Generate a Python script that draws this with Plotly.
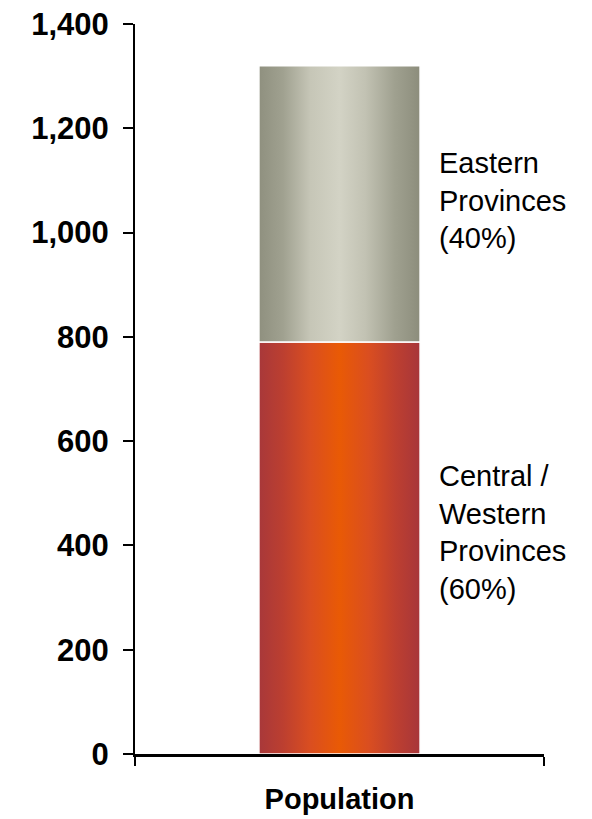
import plotly.graph_objects as go

# Population split (millions)
category = "Population"
segments = ["Central / Western Provinces", "Eastern Provinces"]
values = [790, 530]
labels = ["Central /<br>Western<br>Provinces<br>(60%)", "Eastern<br>Provinces<br>(40%)"]
label_y = [424, 1062]

y_ticks = [0, 200, 400, 600, 800, 1000, 1200, 1400]

# horizontal colour ramps for the two segments (cylinder-like shading)
ramps = [
    [[0, "#A8383A"], [0.15, "#BC3F30"], [0.32, "#DA4E20"], [0.5, "#E95A05"],
     [0.68, "#DA4E20"], [0.85, "#BD3F30"], [1, "#A7363A"]],
    [[0, "#8F907F"], [0.15, "#A0A190"], [0.32, "#C6C6B7"], [0.5, "#D3D3C5"],
     [0.66, "#C2C2B3"], [0.84, "#A0A190"], [1, "#8C8D7C"]],
]

half_w = 0.197
fig = go.Figure()

base = 0
for name, v, ramp in zip(segments, values, ramps):
    top = base + v
    fig.add_trace(go.Scatter(
        x=[-half_w, half_w, half_w, -half_w, -half_w],
        y=[base, base, top, top, base],
        mode="lines",
        fill="toself",
        fillgradient=dict(type="horizontal", colorscale=ramp),
        line=dict(color="white", width=1.5),
        name=name,
        hoverinfo="skip",
        showlegend=False,
    ))
    base = top

for txt, yy in zip(labels, label_y):
    fig.add_annotation(
        x=0.739, xref="paper", y=yy, yref="y",
        text=txt, showarrow=False, xanchor="left", yanchor="middle", align="left",
        font=dict(family="Liberation Sans, Arial, sans-serif", size=29, color="black"),
    )

fig.update_layout(
    width=592, height=819,
    margin=dict(l=135, r=48, t=24, b=65),
    paper_bgcolor="white", plot_bgcolor="white",
    showlegend=False,
    font=dict(family="Liberation Sans, Arial, sans-serif", color="black"),
)

fig.update_xaxes(
    range=[-0.5, 0.5], automargin=False,
    tickmode="array", tickvals=[0], ticktext=[f"<b>{category}</b>"],
    ticks="", ticklabelstandoff=17,
    tickfont=dict(size=29),
    showline=True, linecolor="black", linewidth=2.5,
    showgrid=False, zeroline=False,
    minor=dict(tickmode="array", tickvals=[-0.5, 0.5], ticks="outside",
               ticklen=9, tickwidth=2, tickcolor="black", showgrid=False),
)

fig.update_yaxes(
    range=[0, 1400], automargin=False,
    tickmode="array", tickvals=y_ticks,
    ticktext=[f"<b>{t:,}</b>" for t in y_ticks],
    ticks="outside", ticklen=10, tickwidth=2, tickcolor="black",
    ticklabelstandoff=8,
    tickfont=dict(size=31),
    showline=True, linecolor="black", linewidth=2,
    showgrid=False, zeroline=False,
)

fig.write_html("out.html")
